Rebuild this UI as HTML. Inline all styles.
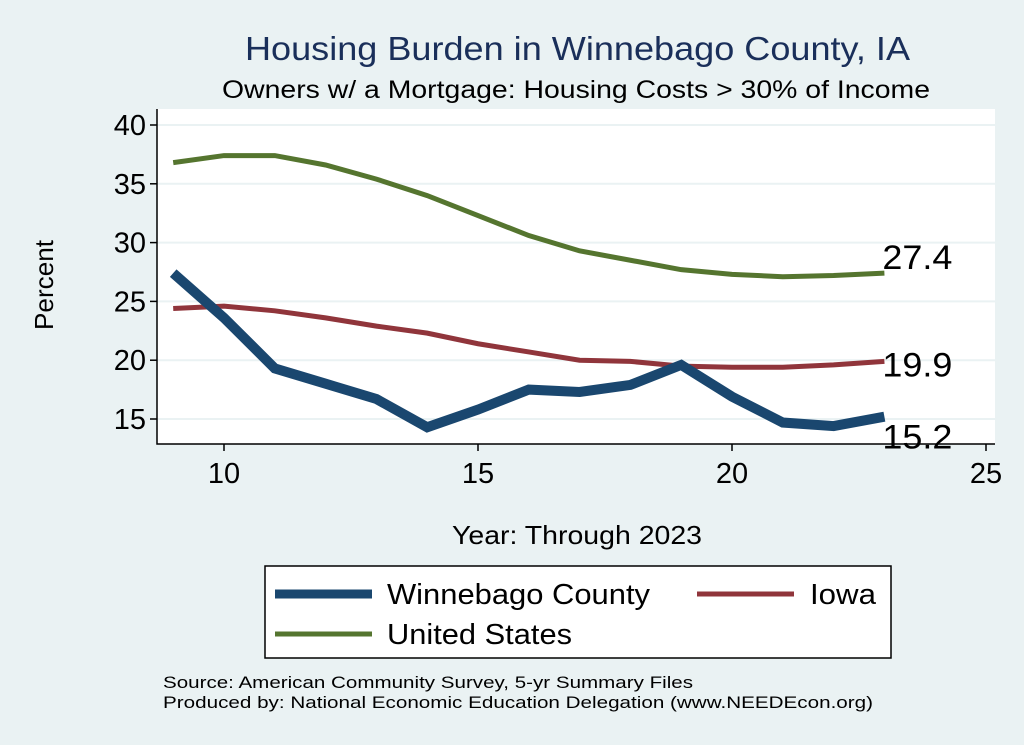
<!DOCTYPE html>
<html><head><meta charset="utf-8"><style>
body{margin:0;background:#eaf2f3;}
svg{display:block;font-family:"Liberation Sans",sans-serif;}
</style></head><body>
<svg id="c" width="1024" height="745">
<rect x="0" y="0" width="1024" height="745" fill="#eaf2f3"/>
<rect x="157" y="109" width="838" height="335" fill="#ffffff"/>
<text x="245" y="60" textLength="665" lengthAdjust="spacingAndGlyphs" font-size="33" fill="#1a2f5a">Housing Burden in Winnebago County, IA</text>
<text x="222" y="98" textLength="708" lengthAdjust="spacingAndGlyphs" font-size="25" fill="#000">Owners w/ a Mortgage: Housing Costs &gt; 30% of Income</text>
<text transform="translate(53,285) rotate(-90)" text-anchor="middle" font-size="26" textLength="90" lengthAdjust="spacingAndGlyphs">Percent</text>
<text x="452" y="544" textLength="250" lengthAdjust="spacingAndGlyphs" font-size="26">Year: Through 2023</text>
<g id="grid"></g><g id="axes"></g><g id="series"></g><g id="labels"></g>
<g>
<rect x="265" y="566" width="626" height="92" fill="#fff" stroke="#000" stroke-width="1.5"/>
<g><line x1="275" y1="594" x2="372" y2="594" stroke="#1a476f" stroke-width="9"/><text x="387" y="604" font-size="29" textLength="263" lengthAdjust="spacingAndGlyphs">Winnebago County</text></g>
<g><line x1="697" y1="594" x2="794" y2="594" stroke="#90353b" stroke-width="5"/><text x="810" y="604" font-size="29" textLength="66" lengthAdjust="spacingAndGlyphs">Iowa</text></g>
<g><line x1="275" y1="634" x2="372" y2="634" stroke="#55752f" stroke-width="5"/><text x="387" y="644" font-size="29" textLength="185" lengthAdjust="spacingAndGlyphs">United States</text></g>
</g>
<text x="163" y="688" font-size="17" textLength="530" lengthAdjust="spacingAndGlyphs">Source: American Community Survey, 5-yr Summary Files</text>
<text x="163" y="708" font-size="17" textLength="710" lengthAdjust="spacingAndGlyphs">Produced by: National Economic Education Delegation (www.NEEDEcon.org)</text>
</svg>
<script>
const years=[9,10,11,12,13,14,15,16,17,18,19,20,21,22,23];
const winnebago=[27.4,23.6,19.3,18.0,16.7,14.3,15.8,17.5,17.3,17.9,19.6,16.9,14.7,14.4,15.2];
const iowa=[24.4,24.6,24.2,23.6,22.9,22.3,21.4,20.7,20.0,19.9,19.5,19.4,19.4,19.6,19.9];
const us=[36.8,37.4,37.4,36.6,35.4,34.0,32.3,30.6,29.3,28.5,27.7,27.3,27.1,27.2,27.4];
const yTicks=[15,20,25,30,35,40];
const xTicks=[10,15,20,25];
const NS='http://www.w3.org/2000/svg';
const X=v=>224+(v-10)*50.8;
const Y=v=>419-(v-15)*11.76;
function mk(t,a,p){const e=document.createElementNS(NS,t);for(const k in a)e.setAttribute(k,a[k]);document.getElementById(p).appendChild(e);return e;}
yTicks.forEach(t=>{
 let g=mk('line',{x1:157,x2:995,y1:Y(t),y2:Y(t),stroke:'#eaf2f3','stroke-width':2},'grid');
 
 
 let k=mk('line',{x1:150,x2:157,y1:Y(t),y2:Y(t),stroke:'#000','stroke-width':1.5},'axes');
 
 
 let l=mk('text',{x:146,y:Y(t)+10,'text-anchor':'end','font-size':29},'axes');l.textContent=t;
 
 
});
xTicks.forEach(t=>{
 let k=mk('line',{x1:X(t),x2:X(t),y1:444,y2:451,stroke:'#000','stroke-width':1.5},'axes');
 
 
 let l=mk('text',{x:X(t),y:483,'text-anchor':'middle','font-size':29},'axes');l.textContent=t;
 
 
});
let ax=mk('path',{d:'M157 109 V444 H995',fill:'none',stroke:'#000','stroke-width':1.5},'axes');


[[us,'#55752f',5,'line-us'],[iowa,'#90353b',5,'line-iowa'],[winnebago,'#1a476f',10,'line-winnebago']].forEach(([d,c,w,n])=>{
 let p=mk('polyline',{points:d.map((v,i)=>X(years[i])+','+Y(v)).join(' '),fill:'none',stroke:c,'stroke-width':w,'stroke-linejoin':'miter'},'series');
 
 
});
const last=years.length-1;
[[us,-4,'label-us'],[iowa,15,'label-iowa'],[winnebago,32,'label-winnebago']].forEach(([d,dy,n])=>{
 let l=mk('text',{x:X(years[last])+-2,y:Y(d[last])+dy,'font-size':34,textLength:70,lengthAdjust:'spacingAndGlyphs'},'labels');l.textContent=d[last].toFixed(1);
 
 
});
</script>
</body></html>
